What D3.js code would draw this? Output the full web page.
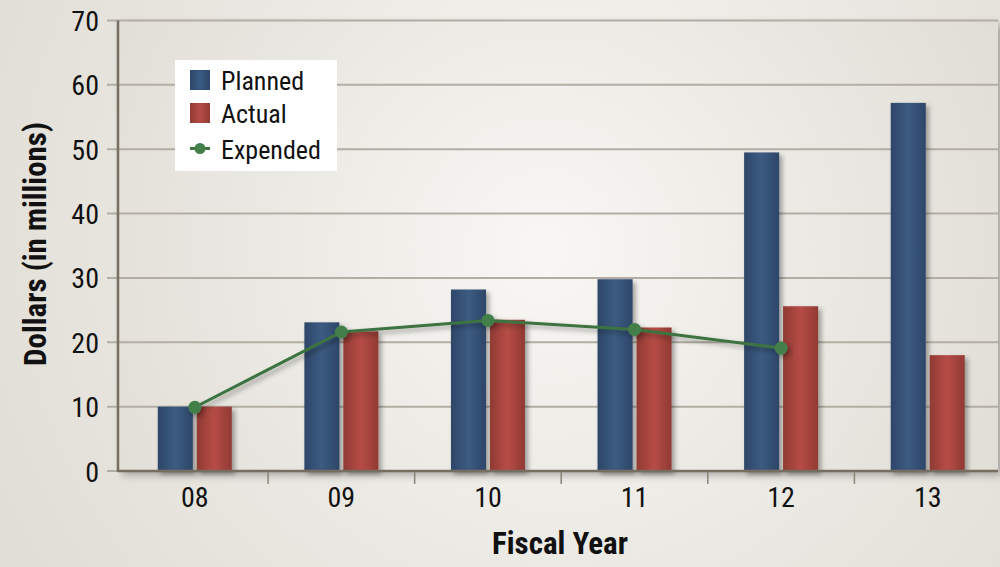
<!DOCTYPE html>
<html><head><meta charset="utf-8">
<script src="https://cdn.jsdelivr.net/npm/d3@7"></script>
<style>
html,body{margin:0;padding:0;background:#e6e4dd;}
svg{display:block;}
text{font-family:"Liberation Sans Narrow","Roboto Condensed","Arial Narrow","Liberation Sans",sans-serif;fill:#111;}
</style></head>
<body>
<svg id="chart" width="1000" height="567"></svg>
<script>
const years = ["08","09","10","11","12","13"];
const planned = [10.0, 23.1, 28.2, 29.8, 49.5, 57.2];
const actual = [10.0, 21.7, 23.5, 22.3, 25.6, 18.0];
const expended = [9.9, 21.6, 23.4, 22.0, 19.1];
const yTicks = [0,10,20,30,40,50,60,70];
const seriesNames = ["Planned","Actual"];

const W = 1000, H = 567;
const plot = {l:118, r:998, t:20.5, b:471};
const svg = d3.select("#chart");
const defs = svg.append("defs");

const bg = defs.append("radialGradient").attr("id","bgGrad")
  .attr("gradientUnits","userSpaceOnUse").attr("cx",560).attr("cy",230).attr("r",620);
bg.append("stop").attr("offset","0").attr("stop-color","#fbfaf7");
bg.append("stop").attr("offset","0.55").attr("stop-color","#ebe9e3");
bg.append("stop").attr("offset","1").attr("stop-color","#e1ded6");
const pg = defs.append("radialGradient").attr("id","plotGrad")
  .attr("gradientUnits","userSpaceOnUse").attr("cx",545).attr("cy",250).attr("r",520);
pg.append("stop").attr("offset","0").attr("stop-color","#f8f7f4");
pg.append("stop").attr("offset","0.6").attr("stop-color","#e9e7e1");
pg.append("stop").attr("offset","1").attr("stop-color","#e0ddd5");

function barGrad(id, dark, light){
  const g = defs.append("linearGradient").attr("id",id).attr("x1","0").attr("x2","1").attr("y1","0").attr("y2","0");
  g.append("stop").attr("offset","0").attr("stop-color",dark);
  g.append("stop").attr("offset","0.5").attr("stop-color",light);
  g.append("stop").attr("offset","1").attr("stop-color",dark);
}
barGrad("gPlanned","#2d4668","#3c5b82");
barGrad("gActual","#913a33","#b64c46");

const sh = defs.append("filter").attr("id","shadow").attr("x","-20%").attr("y","-20%").attr("width","160%").attr("height","160%");
sh.append("feDropShadow").attr("dx",3).attr("dy",3).attr("stdDeviation",2.5).attr("flood-color","#000").attr("flood-opacity",0.35);
const shp = defs.append("filter").attr("id","pshadow").attr("x","-5%").attr("y","-5%").attr("width","115%").attr("height","115%");
shp.append("feDropShadow").attr("dx",4).attr("dy",4).attr("stdDeviation",4).attr("flood-color","#000").attr("flood-opacity",0.3);

svg.append("rect").attr("width",W).attr("height",H).attr("fill","url(#bgGrad)");

svg.append("rect").attr("x",plot.l).attr("y",plot.t).attr("width",plot.r-plot.l).attr("height",plot.b-plot.t)
  .attr("fill","url(#plotGrad)").attr("filter","url(#pshadow)");

const x = d3.scaleBand().domain(years).range([121.5,1001]).paddingInner(0).paddingOuter(0);
const xs = d3.scaleBand().domain(seriesNames).range([-37,37]).paddingInner(0.1);
const y = d3.scaleLinear().domain([0,70]).range([plot.b, plot.t]);

const gy = svg.append("g");
gy.selectAll("line").data(yTicks).join("line")
  .attr("x1",107).attr("x2",plot.r).attr("y1",d=>y(d)).attr("y2",d=>y(d))
  .attr("stroke","#b3aea3").attr("stroke-width",2);
gy.selectAll("text").data(yTicks).join("text")
  .attr("x",99).attr("y",d=>y(d)+1).attr("text-anchor","end").attr("dominant-baseline","central")
  .attr("font-size",28).text(d=>d);

const data = years.map((yr,i)=>({yr, vals:[{s:"Planned",v:planned[i]},{s:"Actual",v:actual[i]}]}));
const gb = svg.append("g");
gb.selectAll("g").data(data).join("g")
  .attr("transform",d=>`translate(${x(d.yr)+x.bandwidth()/2},0)`)
  .selectAll("rect").data(d=>d.vals).join("rect")
  .attr("x",d=>xs(d.s)).attr("width",xs.bandwidth())
  .attr("y",d=>y(d.v)).attr("height",d=>y(0)-y(d.v))
  .attr("fill",d=>d.s==="Planned"?"url(#gPlanned)":"url(#gActual)")
  .attr("filter","url(#shadow)");

svg.append("line").attr("x1",plot.l).attr("x2",plot.l).attr("y1",plot.t).attr("y2",plot.b+1)
  .attr("stroke","#776e62").attr("stroke-width",2.5);
svg.append("line").attr("x1",plot.l).attr("x2",plot.r).attr("y1",plot.b).attr("y2",plot.b)
  .attr("stroke","#776e62").attr("stroke-width",2.5);

const bounds = years.slice(1).map(d=>x(d));
svg.append("g").selectAll("line").data(bounds).join("line")
  .attr("x1",d=>d).attr("x2",d=>d).attr("y1",plot.b+1).attr("y2",plot.b+13)
  .attr("stroke","#8a8478").attr("stroke-width",1.5);
svg.append("g").selectAll("text").data(years).join("text")
  .attr("x",d=>x(d)+x.bandwidth()/2).attr("y",497).attr("text-anchor","middle").attr("dominant-baseline","central")
  .attr("font-size",28).text(d=>d);

const line = d3.line().x((d,i)=>x(years[i])+x.bandwidth()/2).y(d=>y(d));
const gl = svg.append("g").attr("filter","url(#shadow)");
gl.append("path").datum(expended).attr("d",line).attr("fill","none").attr("stroke","#3d7340").attr("stroke-width",3);
gl.selectAll("circle").data(expended).join("circle")
  .attr("cx",(d,i)=>x(years[i])+x.bandwidth()/2).attr("cy",d=>y(d)).attr("r",6.5).attr("fill","#437f49");

const lg = svg.append("g");
lg.append("rect").attr("x",175).attr("y",60).attr("width",162).attr("height",111).attr("fill","#ffffff");
lg.append("rect").attr("x",190).attr("y",70).attr("width",20).attr("height",20).attr("fill","url(#gPlanned)");
lg.append("rect").attr("x",190).attr("y",103).attr("width",20).attr("height",20).attr("fill","url(#gActual)");
lg.append("line").attr("x1",190).attr("x2",210).attr("y1",148.5).attr("y2",148.5).attr("stroke","#3d7340").attr("stroke-width",3);
lg.append("circle").attr("cx",200).attr("cy",148.5).attr("r",5.5).attr("fill","#437f49");
const legendLabels = ["Planned","Actual","Expended"];
lg.selectAll("text").data(legendLabels).join("text")
  .attr("x",221).attr("y",(d,i)=>[80,113,149][i]+1).attr("dominant-baseline","central")
  .attr("font-size",26).text(d=>d);

svg.append("text").attr("x",560).attr("y",543).attr("text-anchor","middle").attr("dominant-baseline","central")
  .attr("font-size",31).attr("font-weight","bold").text("Fiscal Year");
svg.append("text").attr("transform","translate(35,244) rotate(-90)").attr("text-anchor","middle").attr("dominant-baseline","central")
  .attr("font-size",31).attr("font-weight","bold").text("Dollars (in millions)");
</script>
</body></html>
